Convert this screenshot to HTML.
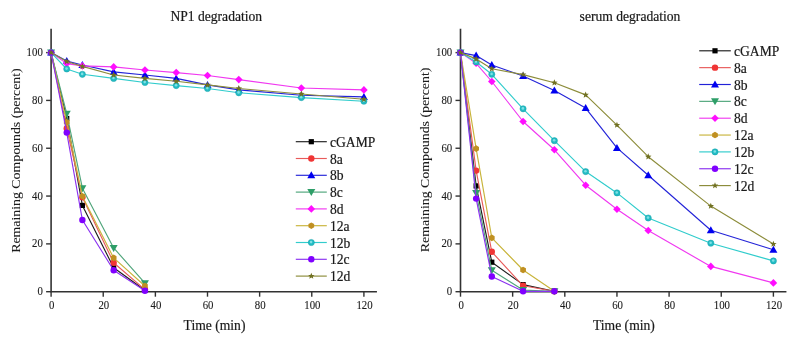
<!DOCTYPE html>
<html><head><meta charset="utf-8"><style>
html,body{margin:0;padding:0;background:#fff;}
svg{display:block;font-family:"Liberation Serif", serif;}
</style></head><body>
<svg width="798" height="343" viewBox="0 0 798 343">
<defs><filter id="bl" filterUnits="userSpaceOnUse" x="0" y="0" width="798" height="343"><feGaussianBlur stdDeviation="0.35"/></filter></defs>
<rect width="798" height="343" fill="#fff"/>
<g filter="url(#bl)">
<text transform="translate(216.25,20.60) scale(1,1.0)" font-size="13.6" text-anchor="middle" fill="#1a1a1a" stroke="#1a1a1a" stroke-width="0.2">NP1 degradation</text>
<path d="M51.10,28.69 V291.70 H376.94" fill="none" stroke="#333" stroke-width="1.6"/>
<path d="M46.10,291.70 H51.10" stroke="#333" stroke-width="1.4"/>
<text transform="translate(42.80,295.20) scale(1,1.1)" font-size="10.8" text-anchor="end" fill="#1a1a1a" stroke="#1a1a1a" stroke-width="0.1">0</text>
<path d="M46.10,243.88 H51.10" stroke="#333" stroke-width="1.4"/>
<text transform="translate(42.80,247.38) scale(1,1.1)" font-size="10.8" text-anchor="end" fill="#1a1a1a" stroke="#1a1a1a" stroke-width="0.1">20</text>
<path d="M46.10,196.06 H51.10" stroke="#333" stroke-width="1.4"/>
<text transform="translate(42.80,199.56) scale(1,1.1)" font-size="10.8" text-anchor="end" fill="#1a1a1a" stroke="#1a1a1a" stroke-width="0.1">40</text>
<path d="M46.10,148.24 H51.10" stroke="#333" stroke-width="1.4"/>
<text transform="translate(42.80,151.74) scale(1,1.1)" font-size="10.8" text-anchor="end" fill="#1a1a1a" stroke="#1a1a1a" stroke-width="0.1">60</text>
<path d="M46.10,100.42 H51.10" stroke="#333" stroke-width="1.4"/>
<text transform="translate(42.80,103.92) scale(1,1.1)" font-size="10.8" text-anchor="end" fill="#1a1a1a" stroke="#1a1a1a" stroke-width="0.1">80</text>
<path d="M46.10,52.60 H51.10" stroke="#333" stroke-width="1.4"/>
<text transform="translate(42.80,56.10) scale(1,1.1)" font-size="10.8" text-anchor="end" fill="#1a1a1a" stroke="#1a1a1a" stroke-width="0.1">100</text>
<path d="M51.10,291.70 V296.70" stroke="#333" stroke-width="1.4"/>
<text transform="translate(51.70,309.30) scale(1,1.1)" font-size="10.8" text-anchor="middle" fill="#1a1a1a" stroke="#1a1a1a" stroke-width="0.1">0</text>
<path d="M103.23,291.70 V296.70" stroke="#333" stroke-width="1.4"/>
<text transform="translate(103.83,309.30) scale(1,1.1)" font-size="10.8" text-anchor="middle" fill="#1a1a1a" stroke="#1a1a1a" stroke-width="0.1">20</text>
<path d="M155.37,291.70 V296.70" stroke="#333" stroke-width="1.4"/>
<text transform="translate(155.97,309.30) scale(1,1.1)" font-size="10.8" text-anchor="middle" fill="#1a1a1a" stroke="#1a1a1a" stroke-width="0.1">40</text>
<path d="M207.50,291.70 V296.70" stroke="#333" stroke-width="1.4"/>
<text transform="translate(208.10,309.30) scale(1,1.1)" font-size="10.8" text-anchor="middle" fill="#1a1a1a" stroke="#1a1a1a" stroke-width="0.1">60</text>
<path d="M259.64,291.70 V296.70" stroke="#333" stroke-width="1.4"/>
<text transform="translate(260.24,309.30) scale(1,1.1)" font-size="10.8" text-anchor="middle" fill="#1a1a1a" stroke="#1a1a1a" stroke-width="0.1">80</text>
<path d="M311.77,291.70 V296.70" stroke="#333" stroke-width="1.4"/>
<text transform="translate(312.37,309.30) scale(1,1.1)" font-size="10.8" text-anchor="middle" fill="#1a1a1a" stroke="#1a1a1a" stroke-width="0.1">100</text>
<path d="M363.90,291.70 V296.70" stroke="#333" stroke-width="1.4"/>
<text transform="translate(364.50,309.30) scale(1,1.1)" font-size="10.8" text-anchor="middle" fill="#1a1a1a" stroke="#1a1a1a" stroke-width="0.1">120</text>
<polyline points="51.10,52.60 66.74,118.50 82.38,205.40 113.66,267.80 144.94,290.30" fill="none" stroke="#1c1c1c" stroke-width="1.15" stroke-linejoin="round"/>
<rect x="48.50" y="50.00" width="5.20" height="5.20" fill="#000000"/>
<rect x="64.14" y="115.90" width="5.20" height="5.20" fill="#000000"/>
<rect x="79.78" y="202.80" width="5.20" height="5.20" fill="#000000"/>
<rect x="111.06" y="265.20" width="5.20" height="5.20" fill="#000000"/>
<rect x="142.34" y="287.70" width="5.20" height="5.20" fill="#000000"/>
<polyline points="51.10,52.60 66.74,128.50 82.38,197.20 113.66,262.70 144.94,289.60" fill="none" stroke="#E85A5A" stroke-width="1.15" stroke-linejoin="round"/>
<circle cx="51.10" cy="52.60" r="3.20" fill="#F03434"/>
<circle cx="66.74" cy="128.50" r="3.20" fill="#F03434"/>
<circle cx="82.38" cy="197.20" r="3.20" fill="#F03434"/>
<circle cx="113.66" cy="262.70" r="3.20" fill="#F03434"/>
<circle cx="144.94" cy="289.60" r="3.20" fill="#F03434"/>
<polyline points="51.10,52.60 66.74,61.10 82.38,65.00 113.66,71.90 144.94,75.00 176.22,78.40 207.50,84.90 238.78,89.90 301.34,95.20 363.90,96.90" fill="none" stroke="#2424D8" stroke-width="1.15" stroke-linejoin="round"/>
<path d="M51.10,48.60 L55.10,55.60 L47.10,55.60Z" fill="#0000F0"/>
<path d="M66.74,57.10 L70.74,64.10 L62.74,64.10Z" fill="#0000F0"/>
<path d="M82.38,61.00 L86.38,68.00 L78.38,68.00Z" fill="#0000F0"/>
<path d="M113.66,67.90 L117.66,74.90 L109.66,74.90Z" fill="#0000F0"/>
<path d="M144.94,71.00 L148.94,78.00 L140.94,78.00Z" fill="#0000F0"/>
<path d="M176.22,74.40 L180.22,81.40 L172.22,81.40Z" fill="#0000F0"/>
<path d="M207.50,80.90 L211.50,87.90 L203.50,87.90Z" fill="#0000F0"/>
<path d="M238.78,85.90 L242.78,92.90 L234.78,92.90Z" fill="#0000F0"/>
<path d="M301.34,91.20 L305.34,98.20 L297.34,98.20Z" fill="#0000F0"/>
<path d="M363.90,92.90 L367.90,99.90 L359.90,99.90Z" fill="#0000F0"/>
<polyline points="51.10,52.60 66.74,113.70 82.38,188.20 113.66,247.90 144.94,283.20" fill="none" stroke="#4FA57A" stroke-width="1.15" stroke-linejoin="round"/>
<path d="M51.10,56.60 L55.10,49.60 L47.10,49.60Z" fill="#2E9E68"/>
<path d="M66.74,117.70 L70.74,110.70 L62.74,110.70Z" fill="#2E9E68"/>
<path d="M82.38,192.20 L86.38,185.20 L78.38,185.20Z" fill="#2E9E68"/>
<path d="M113.66,251.90 L117.66,244.90 L109.66,244.90Z" fill="#2E9E68"/>
<path d="M144.94,287.20 L148.94,280.20 L140.94,280.20Z" fill="#2E9E68"/>
<polyline points="51.10,52.60 66.74,63.60 82.38,65.90 113.66,66.90 144.94,70.00 176.22,72.60 207.50,75.50 238.78,79.60 301.34,88.00 363.90,89.90" fill="none" stroke="#F038F0" stroke-width="1.15" stroke-linejoin="round"/>
<path d="M51.10,48.80 L54.90,52.60 L51.10,56.40 L47.30,52.60Z" fill="#FF10FF"/>
<path d="M66.74,59.80 L70.54,63.60 L66.74,67.40 L62.94,63.60Z" fill="#FF10FF"/>
<path d="M82.38,62.10 L86.18,65.90 L82.38,69.70 L78.58,65.90Z" fill="#FF10FF"/>
<path d="M113.66,63.10 L117.46,66.90 L113.66,70.70 L109.86,66.90Z" fill="#FF10FF"/>
<path d="M144.94,66.20 L148.74,70.00 L144.94,73.80 L141.14,70.00Z" fill="#FF10FF"/>
<path d="M176.22,68.80 L180.02,72.60 L176.22,76.40 L172.42,72.60Z" fill="#FF10FF"/>
<path d="M207.50,71.70 L211.30,75.50 L207.50,79.30 L203.70,75.50Z" fill="#FF10FF"/>
<path d="M238.78,75.80 L242.58,79.60 L238.78,83.40 L234.98,79.60Z" fill="#FF10FF"/>
<path d="M301.34,84.20 L305.14,88.00 L301.34,91.80 L297.54,88.00Z" fill="#FF10FF"/>
<path d="M363.90,86.10 L367.70,89.90 L363.90,93.70 L360.10,89.90Z" fill="#FF10FF"/>
<polyline points="51.10,52.60 66.74,122.20 82.38,196.20 113.66,257.90 144.94,286.00" fill="none" stroke="#C8B43A" stroke-width="1.15" stroke-linejoin="round"/>
<polygon points="51.10,55.90 48.24,54.25 48.24,50.95 51.10,49.30 53.96,50.95 53.96,54.25" fill="#C09020"/>
<polygon points="66.74,125.50 63.88,123.85 63.88,120.55 66.74,118.90 69.60,120.55 69.60,123.85" fill="#C09020"/>
<polygon points="82.38,199.50 79.52,197.85 79.52,194.55 82.38,192.90 85.24,194.55 85.24,197.85" fill="#C09020"/>
<polygon points="113.66,261.20 110.80,259.55 110.80,256.25 113.66,254.60 116.52,256.25 116.52,259.55" fill="#C09020"/>
<polygon points="144.94,289.30 142.08,287.65 142.08,284.35 144.94,282.70 147.80,284.35 147.80,287.65" fill="#C09020"/>
<polyline points="51.10,52.60 66.74,69.00 82.38,74.30 113.66,78.40 144.94,82.50 176.22,85.60 207.50,88.50 238.78,92.80 301.34,97.60 363.90,101.20" fill="none" stroke="#30CCCC" stroke-width="1.15" stroke-linejoin="round"/>
<circle cx="51.10" cy="52.60" r="3.10" fill="#22BCC4" stroke="#18A0A8" stroke-width="0.5"/><circle cx="50.90" cy="52.20" r="1.30" fill="#7ee0e4"/>
<circle cx="66.74" cy="69.00" r="3.10" fill="#22BCC4" stroke="#18A0A8" stroke-width="0.5"/><circle cx="66.54" cy="68.60" r="1.30" fill="#7ee0e4"/>
<circle cx="82.38" cy="74.30" r="3.10" fill="#22BCC4" stroke="#18A0A8" stroke-width="0.5"/><circle cx="82.18" cy="73.90" r="1.30" fill="#7ee0e4"/>
<circle cx="113.66" cy="78.40" r="3.10" fill="#22BCC4" stroke="#18A0A8" stroke-width="0.5"/><circle cx="113.46" cy="78.00" r="1.30" fill="#7ee0e4"/>
<circle cx="144.94" cy="82.50" r="3.10" fill="#22BCC4" stroke="#18A0A8" stroke-width="0.5"/><circle cx="144.74" cy="82.10" r="1.30" fill="#7ee0e4"/>
<circle cx="176.22" cy="85.60" r="3.10" fill="#22BCC4" stroke="#18A0A8" stroke-width="0.5"/><circle cx="176.02" cy="85.20" r="1.30" fill="#7ee0e4"/>
<circle cx="207.50" cy="88.50" r="3.10" fill="#22BCC4" stroke="#18A0A8" stroke-width="0.5"/><circle cx="207.30" cy="88.10" r="1.30" fill="#7ee0e4"/>
<circle cx="238.78" cy="92.80" r="3.10" fill="#22BCC4" stroke="#18A0A8" stroke-width="0.5"/><circle cx="238.58" cy="92.40" r="1.30" fill="#7ee0e4"/>
<circle cx="301.34" cy="97.60" r="3.10" fill="#22BCC4" stroke="#18A0A8" stroke-width="0.5"/><circle cx="301.14" cy="97.20" r="1.30" fill="#7ee0e4"/>
<circle cx="363.90" cy="101.20" r="3.10" fill="#22BCC4" stroke="#18A0A8" stroke-width="0.5"/><circle cx="363.70" cy="100.80" r="1.30" fill="#7ee0e4"/>
<polyline points="51.10,52.60 66.74,132.60 82.38,220.00 113.66,270.30 144.94,290.80" fill="none" stroke="#8A30F0" stroke-width="1.15" stroke-linejoin="round"/>
<circle cx="51.10" cy="52.60" r="3.20" fill="#8000FF"/>
<circle cx="66.74" cy="132.60" r="3.20" fill="#8000FF"/>
<circle cx="82.38" cy="220.00" r="3.20" fill="#8000FF"/>
<circle cx="113.66" cy="270.30" r="3.20" fill="#8000FF"/>
<circle cx="144.94" cy="290.80" r="3.20" fill="#8000FF"/>
<polyline points="51.10,52.60 66.74,61.50 82.38,66.40 113.66,75.00 144.94,78.40 176.22,81.30 207.50,84.90 238.78,88.50 301.34,94.00 363.90,99.30" fill="none" stroke="#8C8C3A" stroke-width="1.15" stroke-linejoin="round"/>
<polygon points="51.10,49.20 51.98,51.39 54.33,51.55 52.53,53.06 53.10,55.35 51.10,54.10 49.10,55.35 49.67,53.06 47.87,51.55 50.22,51.39" fill="#707020"/>
<polygon points="66.74,58.10 67.62,60.29 69.97,60.45 68.17,61.96 68.74,64.25 66.74,63.00 64.74,64.25 65.31,61.96 63.51,60.45 65.86,60.29" fill="#707020"/>
<polygon points="82.38,63.00 83.26,65.19 85.61,65.35 83.81,66.86 84.38,69.15 82.38,67.90 80.38,69.15 80.95,66.86 79.15,65.35 81.50,65.19" fill="#707020"/>
<polygon points="113.66,71.60 114.54,73.79 116.89,73.95 115.09,75.46 115.66,77.75 113.66,76.50 111.66,77.75 112.23,75.46 110.43,73.95 112.78,73.79" fill="#707020"/>
<polygon points="144.94,75.00 145.82,77.19 148.17,77.35 146.37,78.86 146.94,81.15 144.94,79.90 142.94,81.15 143.51,78.86 141.71,77.35 144.06,77.19" fill="#707020"/>
<polygon points="176.22,77.90 177.10,80.09 179.46,80.25 177.65,81.76 178.22,84.05 176.22,82.80 174.22,84.05 174.80,81.76 172.99,80.25 175.34,80.09" fill="#707020"/>
<polygon points="207.50,81.50 208.38,83.69 210.74,83.85 208.93,85.36 209.50,87.65 207.50,86.40 205.50,87.65 206.08,85.36 204.27,83.85 206.62,83.69" fill="#707020"/>
<polygon points="238.78,85.10 239.66,87.29 242.02,87.45 240.21,88.96 240.78,91.25 238.78,90.00 236.78,91.25 237.36,88.96 235.55,87.45 237.90,87.29" fill="#707020"/>
<polygon points="301.34,90.60 302.22,92.79 304.58,92.95 302.77,94.46 303.34,96.75 301.34,95.50 299.34,96.75 299.92,94.46 298.11,92.95 300.46,92.79" fill="#707020"/>
<polygon points="363.90,95.90 364.79,98.09 367.14,98.25 365.33,99.76 365.90,102.05 363.90,100.80 361.91,102.05 362.48,99.76 360.67,98.25 363.02,98.09" fill="#707020"/>
<text transform="translate(214.50,330.10) scale(1,1.0)" font-size="13.6" text-anchor="middle" fill="#1a1a1a" stroke="#1a1a1a" stroke-width="0.2">Time (min)</text>
<text transform="translate(19.8,160.6) scale(1,1.05) rotate(-90)" font-size="13.2" text-anchor="middle" fill="#1a1a1a" stroke="#1a1a1a" stroke-width="0.05">Remaining Compounds (percent)</text>
<path d="M295.8,141.70 H326.8" stroke="#1c1c1c" stroke-width="1.15"/>
<rect x="308.70" y="139.10" width="5.20" height="5.20" fill="#000000"/>
<text transform="translate(330.00,146.70) scale(1,1.0)" font-size="13.6" text-anchor="start" fill="#1a1a1a" stroke="#1a1a1a" stroke-width="0.2">cGAMP</text>
<path d="M295.8,158.50 H326.8" stroke="#E85A5A" stroke-width="1.15"/>
<circle cx="311.30" cy="158.50" r="3.20" fill="#F03434"/>
<text transform="translate(330.00,163.50) scale(1,1.0)" font-size="13.6" text-anchor="start" fill="#1a1a1a" stroke="#1a1a1a" stroke-width="0.2">8a</text>
<path d="M295.8,175.30 H326.8" stroke="#2424D8" stroke-width="1.15"/>
<path d="M311.30,171.30 L315.30,178.30 L307.30,178.30Z" fill="#0000F0"/>
<text transform="translate(330.00,180.30) scale(1,1.0)" font-size="13.6" text-anchor="start" fill="#1a1a1a" stroke="#1a1a1a" stroke-width="0.2">8b</text>
<path d="M295.8,192.10 H326.8" stroke="#4FA57A" stroke-width="1.15"/>
<path d="M311.30,196.10 L315.30,189.10 L307.30,189.10Z" fill="#2E9E68"/>
<text transform="translate(330.00,197.10) scale(1,1.0)" font-size="13.6" text-anchor="start" fill="#1a1a1a" stroke="#1a1a1a" stroke-width="0.2">8c</text>
<path d="M295.8,208.90 H326.8" stroke="#F038F0" stroke-width="1.15"/>
<path d="M311.30,205.10 L315.10,208.90 L311.30,212.70 L307.50,208.90Z" fill="#FF10FF"/>
<text transform="translate(330.00,213.90) scale(1,1.0)" font-size="13.6" text-anchor="start" fill="#1a1a1a" stroke="#1a1a1a" stroke-width="0.2">8d</text>
<path d="M295.8,225.70 H326.8" stroke="#C8B43A" stroke-width="1.15"/>
<polygon points="311.30,229.00 308.44,227.35 308.44,224.05 311.30,222.40 314.16,224.05 314.16,227.35" fill="#C09020"/>
<text transform="translate(330.00,230.70) scale(1,1.0)" font-size="13.6" text-anchor="start" fill="#1a1a1a" stroke="#1a1a1a" stroke-width="0.2">12a</text>
<path d="M295.8,242.50 H326.8" stroke="#30CCCC" stroke-width="1.15"/>
<circle cx="311.30" cy="242.50" r="3.10" fill="#22BCC4" stroke="#18A0A8" stroke-width="0.5"/><circle cx="311.10" cy="242.10" r="1.30" fill="#7ee0e4"/>
<text transform="translate(330.00,247.50) scale(1,1.0)" font-size="13.6" text-anchor="start" fill="#1a1a1a" stroke="#1a1a1a" stroke-width="0.2">12b</text>
<path d="M295.8,259.30 H326.8" stroke="#8A30F0" stroke-width="1.15"/>
<circle cx="311.30" cy="259.30" r="3.20" fill="#8000FF"/>
<text transform="translate(330.00,264.30) scale(1,1.0)" font-size="13.6" text-anchor="start" fill="#1a1a1a" stroke="#1a1a1a" stroke-width="0.2">12c</text>
<path d="M295.8,276.10 H326.8" stroke="#8C8C3A" stroke-width="1.15"/>
<polygon points="311.30,272.70 312.18,274.89 314.53,275.05 312.73,276.56 313.30,278.85 311.30,277.60 309.30,278.85 309.87,276.56 308.07,275.05 310.42,274.89" fill="#707020"/>
<text transform="translate(330.00,281.10) scale(1,1.0)" font-size="13.6" text-anchor="start" fill="#1a1a1a" stroke="#1a1a1a" stroke-width="0.2">12d</text><text transform="translate(630.00,20.60) scale(1,1.0)" font-size="13.6" text-anchor="middle" fill="#1a1a1a" stroke="#1a1a1a" stroke-width="0.2">serum degradation</text>
<path d="M460.50,28.69 V291.70 H786.44" fill="none" stroke="#333" stroke-width="1.6"/>
<path d="M455.50,291.70 H460.50" stroke="#333" stroke-width="1.4"/>
<text transform="translate(452.20,295.20) scale(1,1.1)" font-size="10.8" text-anchor="end" fill="#1a1a1a" stroke="#1a1a1a" stroke-width="0.1">0</text>
<path d="M455.50,243.88 H460.50" stroke="#333" stroke-width="1.4"/>
<text transform="translate(452.20,247.38) scale(1,1.1)" font-size="10.8" text-anchor="end" fill="#1a1a1a" stroke="#1a1a1a" stroke-width="0.1">20</text>
<path d="M455.50,196.06 H460.50" stroke="#333" stroke-width="1.4"/>
<text transform="translate(452.20,199.56) scale(1,1.1)" font-size="10.8" text-anchor="end" fill="#1a1a1a" stroke="#1a1a1a" stroke-width="0.1">40</text>
<path d="M455.50,148.24 H460.50" stroke="#333" stroke-width="1.4"/>
<text transform="translate(452.20,151.74) scale(1,1.1)" font-size="10.8" text-anchor="end" fill="#1a1a1a" stroke="#1a1a1a" stroke-width="0.1">60</text>
<path d="M455.50,100.42 H460.50" stroke="#333" stroke-width="1.4"/>
<text transform="translate(452.20,103.92) scale(1,1.1)" font-size="10.8" text-anchor="end" fill="#1a1a1a" stroke="#1a1a1a" stroke-width="0.1">80</text>
<path d="M455.50,52.60 H460.50" stroke="#333" stroke-width="1.4"/>
<text transform="translate(452.20,56.10) scale(1,1.1)" font-size="10.8" text-anchor="end" fill="#1a1a1a" stroke="#1a1a1a" stroke-width="0.1">100</text>
<path d="M460.50,291.70 V296.70" stroke="#333" stroke-width="1.4"/>
<text transform="translate(461.10,309.30) scale(1,1.1)" font-size="10.8" text-anchor="middle" fill="#1a1a1a" stroke="#1a1a1a" stroke-width="0.1">0</text>
<path d="M512.65,291.70 V296.70" stroke="#333" stroke-width="1.4"/>
<text transform="translate(513.25,309.30) scale(1,1.1)" font-size="10.8" text-anchor="middle" fill="#1a1a1a" stroke="#1a1a1a" stroke-width="0.1">20</text>
<path d="M564.80,291.70 V296.70" stroke="#333" stroke-width="1.4"/>
<text transform="translate(565.40,309.30) scale(1,1.1)" font-size="10.8" text-anchor="middle" fill="#1a1a1a" stroke="#1a1a1a" stroke-width="0.1">40</text>
<path d="M616.95,291.70 V296.70" stroke="#333" stroke-width="1.4"/>
<text transform="translate(617.55,309.30) scale(1,1.1)" font-size="10.8" text-anchor="middle" fill="#1a1a1a" stroke="#1a1a1a" stroke-width="0.1">60</text>
<path d="M669.10,291.70 V296.70" stroke="#333" stroke-width="1.4"/>
<text transform="translate(669.70,309.30) scale(1,1.1)" font-size="10.8" text-anchor="middle" fill="#1a1a1a" stroke="#1a1a1a" stroke-width="0.1">80</text>
<path d="M721.25,291.70 V296.70" stroke="#333" stroke-width="1.4"/>
<text transform="translate(721.85,309.30) scale(1,1.1)" font-size="10.8" text-anchor="middle" fill="#1a1a1a" stroke="#1a1a1a" stroke-width="0.1">100</text>
<path d="M773.40,291.70 V296.70" stroke="#333" stroke-width="1.4"/>
<text transform="translate(774.00,309.30) scale(1,1.1)" font-size="10.8" text-anchor="middle" fill="#1a1a1a" stroke="#1a1a1a" stroke-width="0.1">120</text>
<polyline points="460.50,52.60 476.14,185.90 491.79,262.20 523.08,284.60 554.37,291.30" fill="none" stroke="#1c1c1c" stroke-width="1.15" stroke-linejoin="round"/>
<rect x="457.90" y="50.00" width="5.20" height="5.20" fill="#000000"/>
<rect x="473.54" y="183.30" width="5.20" height="5.20" fill="#000000"/>
<rect x="489.19" y="259.60" width="5.20" height="5.20" fill="#000000"/>
<rect x="520.48" y="282.00" width="5.20" height="5.20" fill="#000000"/>
<rect x="551.77" y="288.70" width="5.20" height="5.20" fill="#000000"/>
<polyline points="460.50,52.60 476.14,170.60 491.79,251.80 523.08,285.80 554.37,291.30" fill="none" stroke="#E85A5A" stroke-width="1.15" stroke-linejoin="round"/>
<circle cx="460.50" cy="52.60" r="3.20" fill="#F03434"/>
<circle cx="476.14" cy="170.60" r="3.20" fill="#F03434"/>
<circle cx="491.79" cy="251.80" r="3.20" fill="#F03434"/>
<circle cx="523.08" cy="285.80" r="3.20" fill="#F03434"/>
<circle cx="554.37" cy="291.30" r="3.20" fill="#F03434"/>
<polyline points="460.50,52.60 476.14,55.60 491.79,65.00 523.08,76.00 554.37,90.40 585.66,108.10 616.95,147.90 648.24,175.20 710.82,230.30 773.40,249.70" fill="none" stroke="#2424D8" stroke-width="1.15" stroke-linejoin="round"/>
<path d="M460.50,48.60 L464.50,55.60 L456.50,55.60Z" fill="#0000F0"/>
<path d="M476.14,51.60 L480.14,58.60 L472.14,58.60Z" fill="#0000F0"/>
<path d="M491.79,61.00 L495.79,68.00 L487.79,68.00Z" fill="#0000F0"/>
<path d="M523.08,72.00 L527.08,79.00 L519.08,79.00Z" fill="#0000F0"/>
<path d="M554.37,86.40 L558.37,93.40 L550.37,93.40Z" fill="#0000F0"/>
<path d="M585.66,104.10 L589.66,111.10 L581.66,111.10Z" fill="#0000F0"/>
<path d="M616.95,143.90 L620.95,150.90 L612.95,150.90Z" fill="#0000F0"/>
<path d="M648.24,171.20 L652.24,178.20 L644.24,178.20Z" fill="#0000F0"/>
<path d="M710.82,226.30 L714.82,233.30 L706.82,233.30Z" fill="#0000F0"/>
<path d="M773.40,245.70 L777.40,252.70 L769.40,252.70Z" fill="#0000F0"/>
<polyline points="460.50,52.60 476.14,192.90 491.79,270.30 523.08,290.10 554.37,291.30" fill="none" stroke="#4FA57A" stroke-width="1.15" stroke-linejoin="round"/>
<path d="M460.50,56.60 L464.50,49.60 L456.50,49.60Z" fill="#2E9E68"/>
<path d="M476.14,196.90 L480.14,189.90 L472.14,189.90Z" fill="#2E9E68"/>
<path d="M491.79,274.30 L495.79,267.30 L487.79,267.30Z" fill="#2E9E68"/>
<path d="M523.08,294.10 L527.08,287.10 L519.08,287.10Z" fill="#2E9E68"/>
<path d="M554.37,295.30 L558.37,288.30 L550.37,288.30Z" fill="#2E9E68"/>
<polyline points="460.50,52.60 476.14,63.30 491.79,81.50 523.08,121.50 554.37,149.80 585.66,185.20 616.95,209.20 648.24,230.50 710.82,266.40 773.40,282.90" fill="none" stroke="#F038F0" stroke-width="1.15" stroke-linejoin="round"/>
<path d="M460.50,48.80 L464.30,52.60 L460.50,56.40 L456.70,52.60Z" fill="#FF10FF"/>
<path d="M476.14,59.50 L479.94,63.30 L476.14,67.10 L472.34,63.30Z" fill="#FF10FF"/>
<path d="M491.79,77.70 L495.59,81.50 L491.79,85.30 L487.99,81.50Z" fill="#FF10FF"/>
<path d="M523.08,117.70 L526.88,121.50 L523.08,125.30 L519.28,121.50Z" fill="#FF10FF"/>
<path d="M554.37,146.00 L558.17,149.80 L554.37,153.60 L550.57,149.80Z" fill="#FF10FF"/>
<path d="M585.66,181.40 L589.46,185.20 L585.66,189.00 L581.86,185.20Z" fill="#FF10FF"/>
<path d="M616.95,205.40 L620.75,209.20 L616.95,213.00 L613.15,209.20Z" fill="#FF10FF"/>
<path d="M648.24,226.70 L652.04,230.50 L648.24,234.30 L644.44,230.50Z" fill="#FF10FF"/>
<path d="M710.82,262.60 L714.62,266.40 L710.82,270.20 L707.02,266.40Z" fill="#FF10FF"/>
<path d="M773.40,279.10 L777.20,282.90 L773.40,286.70 L769.60,282.90Z" fill="#FF10FF"/>
<polyline points="460.50,52.60 476.14,148.60 491.79,237.90 523.08,270.00 554.37,291.30" fill="none" stroke="#C8B43A" stroke-width="1.15" stroke-linejoin="round"/>
<polygon points="460.50,55.90 457.64,54.25 457.64,50.95 460.50,49.30 463.36,50.95 463.36,54.25" fill="#C09020"/>
<polygon points="476.14,151.90 473.29,150.25 473.29,146.95 476.14,145.30 479.00,146.95 479.00,150.25" fill="#C09020"/>
<polygon points="491.79,241.20 488.93,239.55 488.93,236.25 491.79,234.60 494.65,236.25 494.65,239.55" fill="#C09020"/>
<polygon points="523.08,273.30 520.22,271.65 520.22,268.35 523.08,266.70 525.94,268.35 525.94,271.65" fill="#C09020"/>
<polygon points="554.37,294.60 551.51,292.95 551.51,289.65 554.37,288.00 557.23,289.65 557.23,292.95" fill="#C09020"/>
<polyline points="460.50,52.60 476.14,62.00 491.79,74.30 523.08,108.80 554.37,140.70 585.66,171.60 616.95,192.90 648.24,218.00 710.82,243.20 773.40,260.90" fill="none" stroke="#30CCCC" stroke-width="1.15" stroke-linejoin="round"/>
<circle cx="460.50" cy="52.60" r="3.10" fill="#22BCC4" stroke="#18A0A8" stroke-width="0.5"/><circle cx="460.30" cy="52.20" r="1.30" fill="#7ee0e4"/>
<circle cx="476.14" cy="62.00" r="3.10" fill="#22BCC4" stroke="#18A0A8" stroke-width="0.5"/><circle cx="475.94" cy="61.60" r="1.30" fill="#7ee0e4"/>
<circle cx="491.79" cy="74.30" r="3.10" fill="#22BCC4" stroke="#18A0A8" stroke-width="0.5"/><circle cx="491.59" cy="73.90" r="1.30" fill="#7ee0e4"/>
<circle cx="523.08" cy="108.80" r="3.10" fill="#22BCC4" stroke="#18A0A8" stroke-width="0.5"/><circle cx="522.88" cy="108.40" r="1.30" fill="#7ee0e4"/>
<circle cx="554.37" cy="140.70" r="3.10" fill="#22BCC4" stroke="#18A0A8" stroke-width="0.5"/><circle cx="554.17" cy="140.30" r="1.30" fill="#7ee0e4"/>
<circle cx="585.66" cy="171.60" r="3.10" fill="#22BCC4" stroke="#18A0A8" stroke-width="0.5"/><circle cx="585.46" cy="171.20" r="1.30" fill="#7ee0e4"/>
<circle cx="616.95" cy="192.90" r="3.10" fill="#22BCC4" stroke="#18A0A8" stroke-width="0.5"/><circle cx="616.75" cy="192.50" r="1.30" fill="#7ee0e4"/>
<circle cx="648.24" cy="218.00" r="3.10" fill="#22BCC4" stroke="#18A0A8" stroke-width="0.5"/><circle cx="648.04" cy="217.60" r="1.30" fill="#7ee0e4"/>
<circle cx="710.82" cy="243.20" r="3.10" fill="#22BCC4" stroke="#18A0A8" stroke-width="0.5"/><circle cx="710.62" cy="242.80" r="1.30" fill="#7ee0e4"/>
<circle cx="773.40" cy="260.90" r="3.10" fill="#22BCC4" stroke="#18A0A8" stroke-width="0.5"/><circle cx="773.20" cy="260.50" r="1.30" fill="#7ee0e4"/>
<polyline points="460.50,52.60 476.14,198.60 491.79,276.50 523.08,291.30 554.37,291.30" fill="none" stroke="#8A30F0" stroke-width="1.15" stroke-linejoin="round"/>
<circle cx="460.50" cy="52.60" r="3.20" fill="#8000FF"/>
<circle cx="476.14" cy="198.60" r="3.20" fill="#8000FF"/>
<circle cx="491.79" cy="276.50" r="3.20" fill="#8000FF"/>
<circle cx="523.08" cy="291.30" r="3.20" fill="#8000FF"/>
<circle cx="554.37" cy="291.30" r="3.20" fill="#8000FF"/>
<polyline points="460.50,52.60 476.14,58.90 491.79,68.80 523.08,74.60 554.37,82.70 585.66,94.90 616.95,125.10 648.24,156.70 710.82,206.10 773.40,244.10" fill="none" stroke="#8C8C3A" stroke-width="1.15" stroke-linejoin="round"/>
<polygon points="460.50,49.20 461.38,51.39 463.73,51.55 461.93,53.06 462.50,55.35 460.50,54.10 458.50,55.35 459.07,53.06 457.27,51.55 459.62,51.39" fill="#707020"/>
<polygon points="476.14,55.50 477.03,57.69 479.38,57.85 477.57,59.36 478.14,61.65 476.14,60.40 474.15,61.65 474.72,59.36 472.91,57.85 475.26,57.69" fill="#707020"/>
<polygon points="491.79,65.40 492.67,67.59 495.02,67.75 493.22,69.26 493.79,71.55 491.79,70.30 489.79,71.55 490.36,69.26 488.56,67.75 490.91,67.59" fill="#707020"/>
<polygon points="523.08,71.20 523.96,73.39 526.31,73.55 524.51,75.06 525.08,77.35 523.08,76.10 521.08,77.35 521.65,75.06 519.85,73.55 522.20,73.39" fill="#707020"/>
<polygon points="554.37,79.30 555.25,81.49 557.60,81.65 555.80,83.16 556.37,85.45 554.37,84.20 552.37,85.45 552.94,83.16 551.14,81.65 553.49,81.49" fill="#707020"/>
<polygon points="585.66,91.50 586.54,93.69 588.89,93.85 587.09,95.36 587.66,97.65 585.66,96.40 583.66,97.65 584.23,95.36 582.43,93.85 584.78,93.69" fill="#707020"/>
<polygon points="616.95,121.70 617.83,123.89 620.18,124.05 618.38,125.56 618.95,127.85 616.95,126.60 614.95,127.85 615.52,125.56 613.72,124.05 616.07,123.89" fill="#707020"/>
<polygon points="648.24,153.30 649.12,155.49 651.47,155.65 649.67,157.16 650.24,159.45 648.24,158.20 646.24,159.45 646.81,157.16 645.01,155.65 647.36,155.49" fill="#707020"/>
<polygon points="710.82,202.70 711.70,204.89 714.05,205.05 712.25,206.56 712.82,208.85 710.82,207.60 708.82,208.85 709.39,206.56 707.59,205.05 709.94,204.89" fill="#707020"/>
<polygon points="773.40,240.70 774.28,242.89 776.63,243.05 774.83,244.56 775.40,246.85 773.40,245.60 771.40,246.85 771.97,244.56 770.17,243.05 772.52,242.89" fill="#707020"/>
<text transform="translate(623.90,330.10) scale(1,1.0)" font-size="13.6" text-anchor="middle" fill="#1a1a1a" stroke="#1a1a1a" stroke-width="0.2">Time (min)</text>
<text transform="translate(429.0,159.9) scale(1,1.05) rotate(-90)" font-size="13.2" text-anchor="middle" fill="#1a1a1a" stroke="#1a1a1a" stroke-width="0.05">Remaining Compounds (percent)</text>
<path d="M699.2,50.80 H730.8" stroke="#1c1c1c" stroke-width="1.15"/>
<rect x="712.40" y="48.20" width="5.20" height="5.20" fill="#000000"/>
<text transform="translate(734.00,55.80) scale(1,1.0)" font-size="13.6" text-anchor="start" fill="#1a1a1a" stroke="#1a1a1a" stroke-width="0.2">cGAMP</text>
<path d="M699.2,67.65 H730.8" stroke="#E85A5A" stroke-width="1.15"/>
<circle cx="715.00" cy="67.65" r="3.20" fill="#F03434"/>
<text transform="translate(734.00,72.65) scale(1,1.0)" font-size="13.6" text-anchor="start" fill="#1a1a1a" stroke="#1a1a1a" stroke-width="0.2">8a</text>
<path d="M699.2,84.50 H730.8" stroke="#2424D8" stroke-width="1.15"/>
<path d="M715.00,80.50 L719.00,87.50 L711.00,87.50Z" fill="#0000F0"/>
<text transform="translate(734.00,89.50) scale(1,1.0)" font-size="13.6" text-anchor="start" fill="#1a1a1a" stroke="#1a1a1a" stroke-width="0.2">8b</text>
<path d="M699.2,101.35 H730.8" stroke="#4FA57A" stroke-width="1.15"/>
<path d="M715.00,105.35 L719.00,98.35 L711.00,98.35Z" fill="#2E9E68"/>
<text transform="translate(734.00,106.35) scale(1,1.0)" font-size="13.6" text-anchor="start" fill="#1a1a1a" stroke="#1a1a1a" stroke-width="0.2">8c</text>
<path d="M699.2,118.20 H730.8" stroke="#F038F0" stroke-width="1.15"/>
<path d="M715.00,114.40 L718.80,118.20 L715.00,122.00 L711.20,118.20Z" fill="#FF10FF"/>
<text transform="translate(734.00,123.20) scale(1,1.0)" font-size="13.6" text-anchor="start" fill="#1a1a1a" stroke="#1a1a1a" stroke-width="0.2">8d</text>
<path d="M699.2,135.05 H730.8" stroke="#C8B43A" stroke-width="1.15"/>
<polygon points="715.00,138.35 712.14,136.70 712.14,133.40 715.00,131.75 717.86,133.40 717.86,136.70" fill="#C09020"/>
<text transform="translate(734.00,140.05) scale(1,1.0)" font-size="13.6" text-anchor="start" fill="#1a1a1a" stroke="#1a1a1a" stroke-width="0.2">12a</text>
<path d="M699.2,151.90 H730.8" stroke="#30CCCC" stroke-width="1.15"/>
<circle cx="715.00" cy="151.90" r="3.10" fill="#22BCC4" stroke="#18A0A8" stroke-width="0.5"/><circle cx="714.80" cy="151.50" r="1.30" fill="#7ee0e4"/>
<text transform="translate(734.00,156.90) scale(1,1.0)" font-size="13.6" text-anchor="start" fill="#1a1a1a" stroke="#1a1a1a" stroke-width="0.2">12b</text>
<path d="M699.2,168.75 H730.8" stroke="#8A30F0" stroke-width="1.15"/>
<circle cx="715.00" cy="168.75" r="3.20" fill="#8000FF"/>
<text transform="translate(734.00,173.75) scale(1,1.0)" font-size="13.6" text-anchor="start" fill="#1a1a1a" stroke="#1a1a1a" stroke-width="0.2">12c</text>
<path d="M699.2,185.60 H730.8" stroke="#8C8C3A" stroke-width="1.15"/>
<polygon points="715.00,182.20 715.88,184.39 718.23,184.55 716.43,186.06 717.00,188.35 715.00,187.10 713.00,188.35 713.57,186.06 711.77,184.55 714.12,184.39" fill="#707020"/>
<text transform="translate(734.00,190.60) scale(1,1.0)" font-size="13.6" text-anchor="start" fill="#1a1a1a" stroke="#1a1a1a" stroke-width="0.2">12d</text>
</g>
</svg></body></html>
